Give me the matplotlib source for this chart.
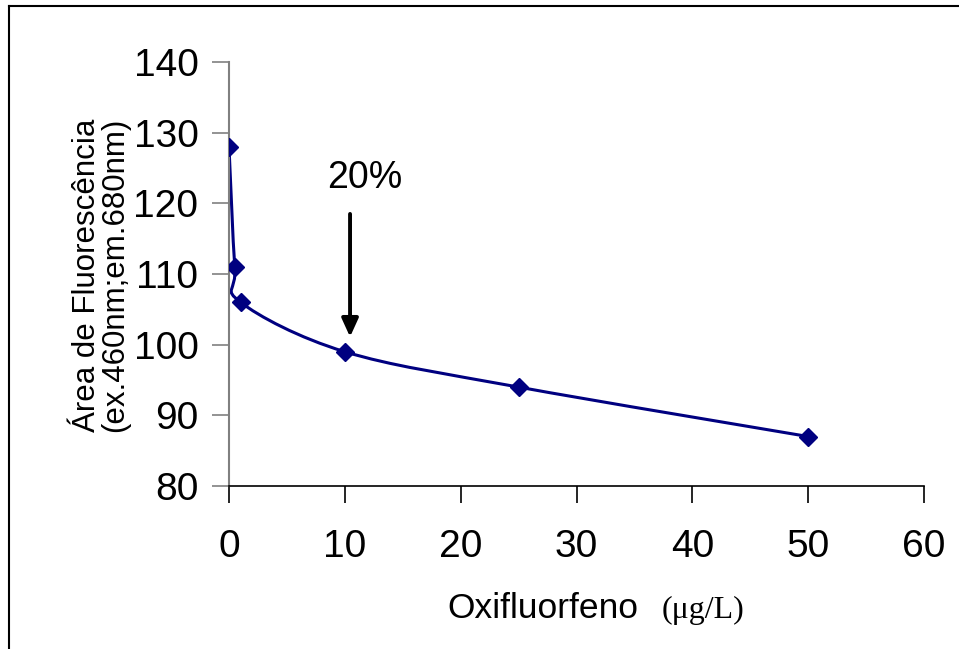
import numpy as np
import matplotlib
matplotlib.use('Agg')
import matplotlib.pyplot as plt
from matplotlib.path import Path
from matplotlib.patches import PathPatch
from matplotlib.lines import Line2D

# data
conc = [0, 0.5, 1, 10, 25, 50]          # Oxifluorfeno (ug/L)
area = [128, 111, 106, 99, 94, 87]      # fluorescence area
xticks = [0, 10, 20, 30, 40, 50, 60]
yticks = [80, 90, 100, 110, 120, 130, 140]

navy = '#000080'
plt.rcParams['font.family'] = ['Liberation Sans', 'DejaVu Sans']

W, H = 959, 649
fig = plt.figure(figsize=(W/100, H/100), dpi=100)
ax = fig.add_axes([229/W, 1-486/H, (924-229)/W, (486-62)/H])

# smoothed line (Excel-like bezier, tension 1/6)
pts = np.column_stack([conc, area]).astype(float)
ext = np.vstack([pts[0], pts, pts[-1]])
verts, codes = [tuple(pts[0])], [Path.MOVETO]
for i in range(len(pts)-1):
    p0, p1, p2, p3 = ext[i], ext[i+1], ext[i+2], ext[i+3]
    c1 = p1 + (p2 - p0)/6
    c2 = p2 - (p3 - p1)/6
    verts += [tuple(c1), tuple(c2), tuple(p2)]
    codes += [Path.CURVE4]*3
ax.add_patch(PathPatch(Path(verts, codes), fill=False, edgecolor=navy, lw=2.2, zorder=2))
ax.plot(conc, area, linestyle='none', marker='D', ms=9, color=navy, zorder=3)

# arrow + label
ax.annotate('', xy=(10.45, 101.1), xytext=(10.45, 118.5),
            arrowprops=dict(arrowstyle='-|>,head_length=0.55,head_width=0.25',
                            lw=2.8, color='black', shrinkA=0, shrinkB=0,
                            mutation_scale=20))
ax.text(11.7, 122.2, '20%', fontsize=27, ha='center', va='baseline')

ax.set_xlim(0, 60)
ax.set_ylim(80, 140)
ax.set_xticks(xticks)
ax.set_yticks(yticks)
ax.tick_params(axis='both', labelsize=28, length=12, width=1.2, direction='out')
ax.tick_params(axis='x', pad=19, color='black')
ax.tick_params(axis='y', pad=10, color='#808080')
for s in ['top', 'right']:
    ax.spines[s].set_visible(False)
ax.spines['left'].set_color('#808080')
ax.spines['left'].set_linewidth(1.5)
ax.spines['bottom'].set_color('black')
ax.spines['bottom'].set_linewidth(1.2)

# axis labels
fig.text(101/W, 1-275/H, 'Área de Fluorescência\n(ex.460nm;em.680nm)',
         rotation=90, fontsize=22.5, ha='center', va='center', linespacing=0.9)
fig.text(447/W, 1-618/H, 'Oxifluorfeno', fontsize=25.5, ha='left', va='baseline')
fig.text(662/W, 1-618/H, '(μg/L)', fontsize=23, ha='left', va='baseline',
         family=['Liberation Serif', 'DejaVu Serif'])

# outer frame (top and left only visible)
fig.add_artist(Line2D([9/W, 1], [1-6/H, 1-6/H], color='black', lw=1.5))
fig.add_artist(Line2D([9/W, 9/W], [0, 1-6/H], color='black', lw=1.5))

fig.savefig('out.png', dpi=100)
